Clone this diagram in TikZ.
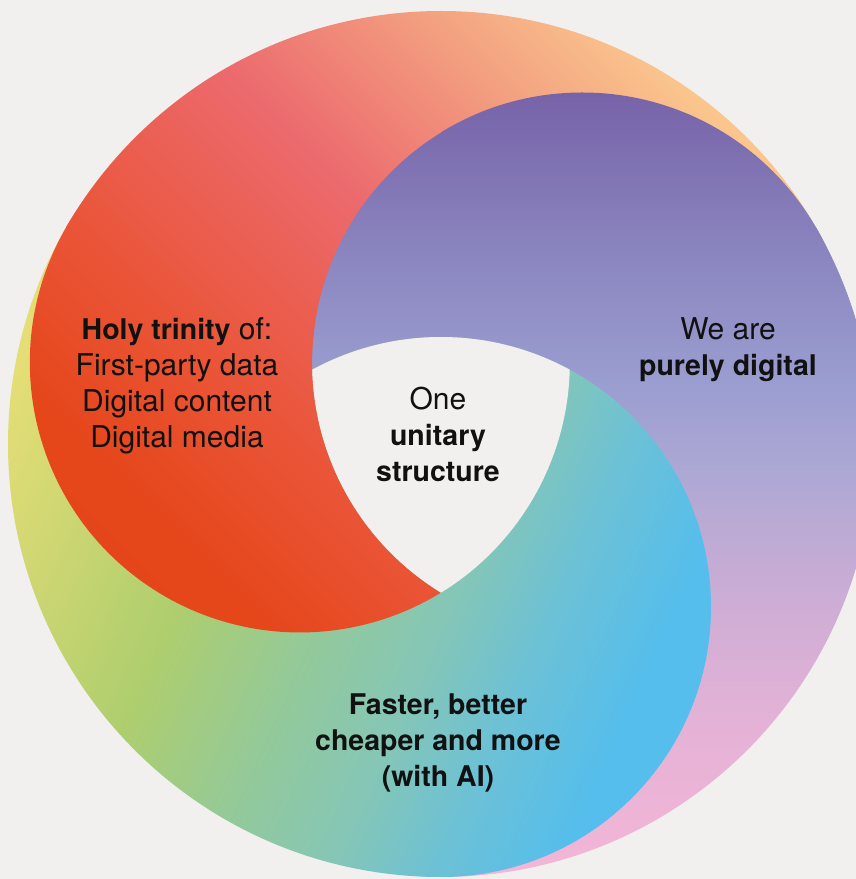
\documentclass[tikz,border=0pt]{standalone}
\usepackage{fontspec}
\setmainfont{TeX Gyre Heros}
\definecolor{bg}{HTML}{F1F0EE}
\definecolor{ink}{HTML}{111111}
% red comma
\definecolor{rA}{HTML}{E4451A}
\definecolor{rB}{HTML}{E5461A}
\definecolor{rC}{HTML}{EA5436}
\definecolor{rD}{HTML}{EC6A6E}
\definecolor{rE}{HTML}{F3A080}
\definecolor{rF}{HTML}{FAC68D}
% purple comma
\definecolor{pA}{HTML}{7560A7}
\definecolor{pB}{HTML}{8A84BE}
\definecolor{pC}{HTML}{9A9DD0}
\definecolor{pD}{HTML}{ADA8D4}
\definecolor{pE}{HTML}{CDADD5}
\definecolor{pF}{HTML}{E4B2D6}
\definecolor{pG}{HTML}{F4B6D6}
% green comma
\definecolor{gA}{HTML}{E5DE76}
\definecolor{gB}{HTML}{CDD672}
\definecolor{gC}{HTML}{AECE6E}
\definecolor{gD}{HTML}{93C99A}
\definecolor{gE}{HTML}{85C6B6}
\definecolor{gF}{HTML}{6CC1D6}
\definecolor{gG}{HTML}{55BEEC}
\pgfdeclarehorizontalshading{redsh}{100bp}{color(0bp)=(rA); color(9.75bp)=(rB); color(28.4bp)=(rC); color(56.6bp)=(rD); color(78.75bp)=(rE); color(95.5bp)=(rF); color(100bp)=(rF)}
\pgfdeclarehorizontalshading{pursh}{100bp}{color(0bp)=(pA); color(21bp)=(pB); color(37.5bp)=(pC); color(49bp)=(pD); color(65bp)=(pE); color(80bp)=(pF); color(100bp)=(pG)}
\pgfdeclarehorizontalshading{grnsh}{100bp}{color(0bp)=(gA); color(3bp)=(gA); color(16.75bp)=(gB); color(33.75bp)=(gC); color(50.9bp)=(gD); color(64.6bp)=(gE); color(77.1bp)=(gF); color(90.75bp)=(gG); color(100bp)=(gG)}
\newcommand{\gradfill}[5]{%
  \begin{scope}[shift={#3}, rotate=#4, xscale=#5, yscale=30, transform shape]
    \node[anchor=west, inner sep=0pt, outer sep=0pt] (#1) at (0,0) {\pgfuseshading{#2}};
  \end{scope}}
\newcommand{\redfill}[1]{\gradfill{#1}{redsh}{(-240.4,638.6)}{45}{7.97}}
\newcommand{\purfill}[1]{\gradfill{#1}{pursh}{(0,799)}{-90}{7.97}}
\newcommand{\grnfill}[1]{\gradfill{#1}{grnsh}{(127.7,821.6)}{-24.2}{7.97}}
\newcommand{\rgf}{\fontsize{30}{36}\selectfont\mdseries}
\newcommand{\bdf}{\fontsize{28.5}{36}\selectfont\bfseries}
\tikzset{txt/.style={text=ink, inner sep=0pt, outer sep=0pt, anchor=base, font=\rgf}}
\begin{document}
\begin{tikzpicture}[x=1pt,y=1pt]
\useasboundingbox (0,0) rectangle (856,879);
\fill[bg] (0,0) rectangle (856,879);
\clip (0,0) rectangle (856,879);
\coordinate (O) at (441,435);
\coordinate (Cr) at (299.84,516.5);
\coordinate (Cp) at (582.16,516.5);
\coordinate (Cg) at (441,272);
% tails (outer ring sectors)
\begin{scope}
  \clip (O) circle[radius=433pt];
  \begin{scope}
    \clip (441,435) -- (1307,935) -- (-425,935) -- cycle;
    \redfill{rtail}
  \end{scope}
  \begin{scope}
    \clip (441,435) -- (1307,935) -- (441,-565) -- cycle;
    \purfill{ptail}
  \end{scope}
  \begin{scope}
    \clip (441,435) -- (441,-565) -- (-425,935) -- cycle;
    \grnfill{gtail}
  \end{scope}
\end{scope}
% purple disk
\begin{scope}
  \clip (Cp) circle[radius=270pt];
  \purfill{pdisk}
\end{scope}
% green disk (over purple)
\begin{scope}
  \clip (Cg) circle[radius=270pt];
  \grnfill{gdisk}
\end{scope}
% red disk minus purple disk (over green)
\begin{scope}
  \clip (441,746.66) arc[start angle=58.48, end angle=301.52, radius=270pt]
        arc[start angle=238.48, end angle=121.52, radius=270pt] -- cycle;
  \redfill{rdisk}
\end{scope}
% central triangle
\fill[bg] (312.26,509.33) arc[start angle=118.48, end angle=61.52, radius=270pt]
      arc[start angle=-1.52, end angle=-58.48, radius=270pt]
      arc[start angle=238.48, end angle=181.52, radius=270pt] -- cycle;
% texts
\node[txt] (h1) at (177,539) {{\bdf Holy trinity} of:};
\node[txt] (h2) at (177,503) {First-party data};
\node[txt] (h3) at (177,467) {Digital content};
\node[txt] (h4) at (177,431) {Digital media};
\node[txt] (c1) at (438,469) {One};
\node[txt] (c2) at (438,433) {\bdf unitary};
\node[txt] (c3) at (438,397) {\bdf structure};
\node[txt] (w1) at (728,539) {We are};
\node[txt] (w2) at (728,503) {\bdf purely digital};
\node[txt] (f1) at (438,164) {\bdf Faster, better};
\node[txt] (f2) at (438,128) {\bdf cheaper and more};
\node[txt] (f3) at (438,92) {\bdf (with AI)};
\end{tikzpicture}
\end{document}
